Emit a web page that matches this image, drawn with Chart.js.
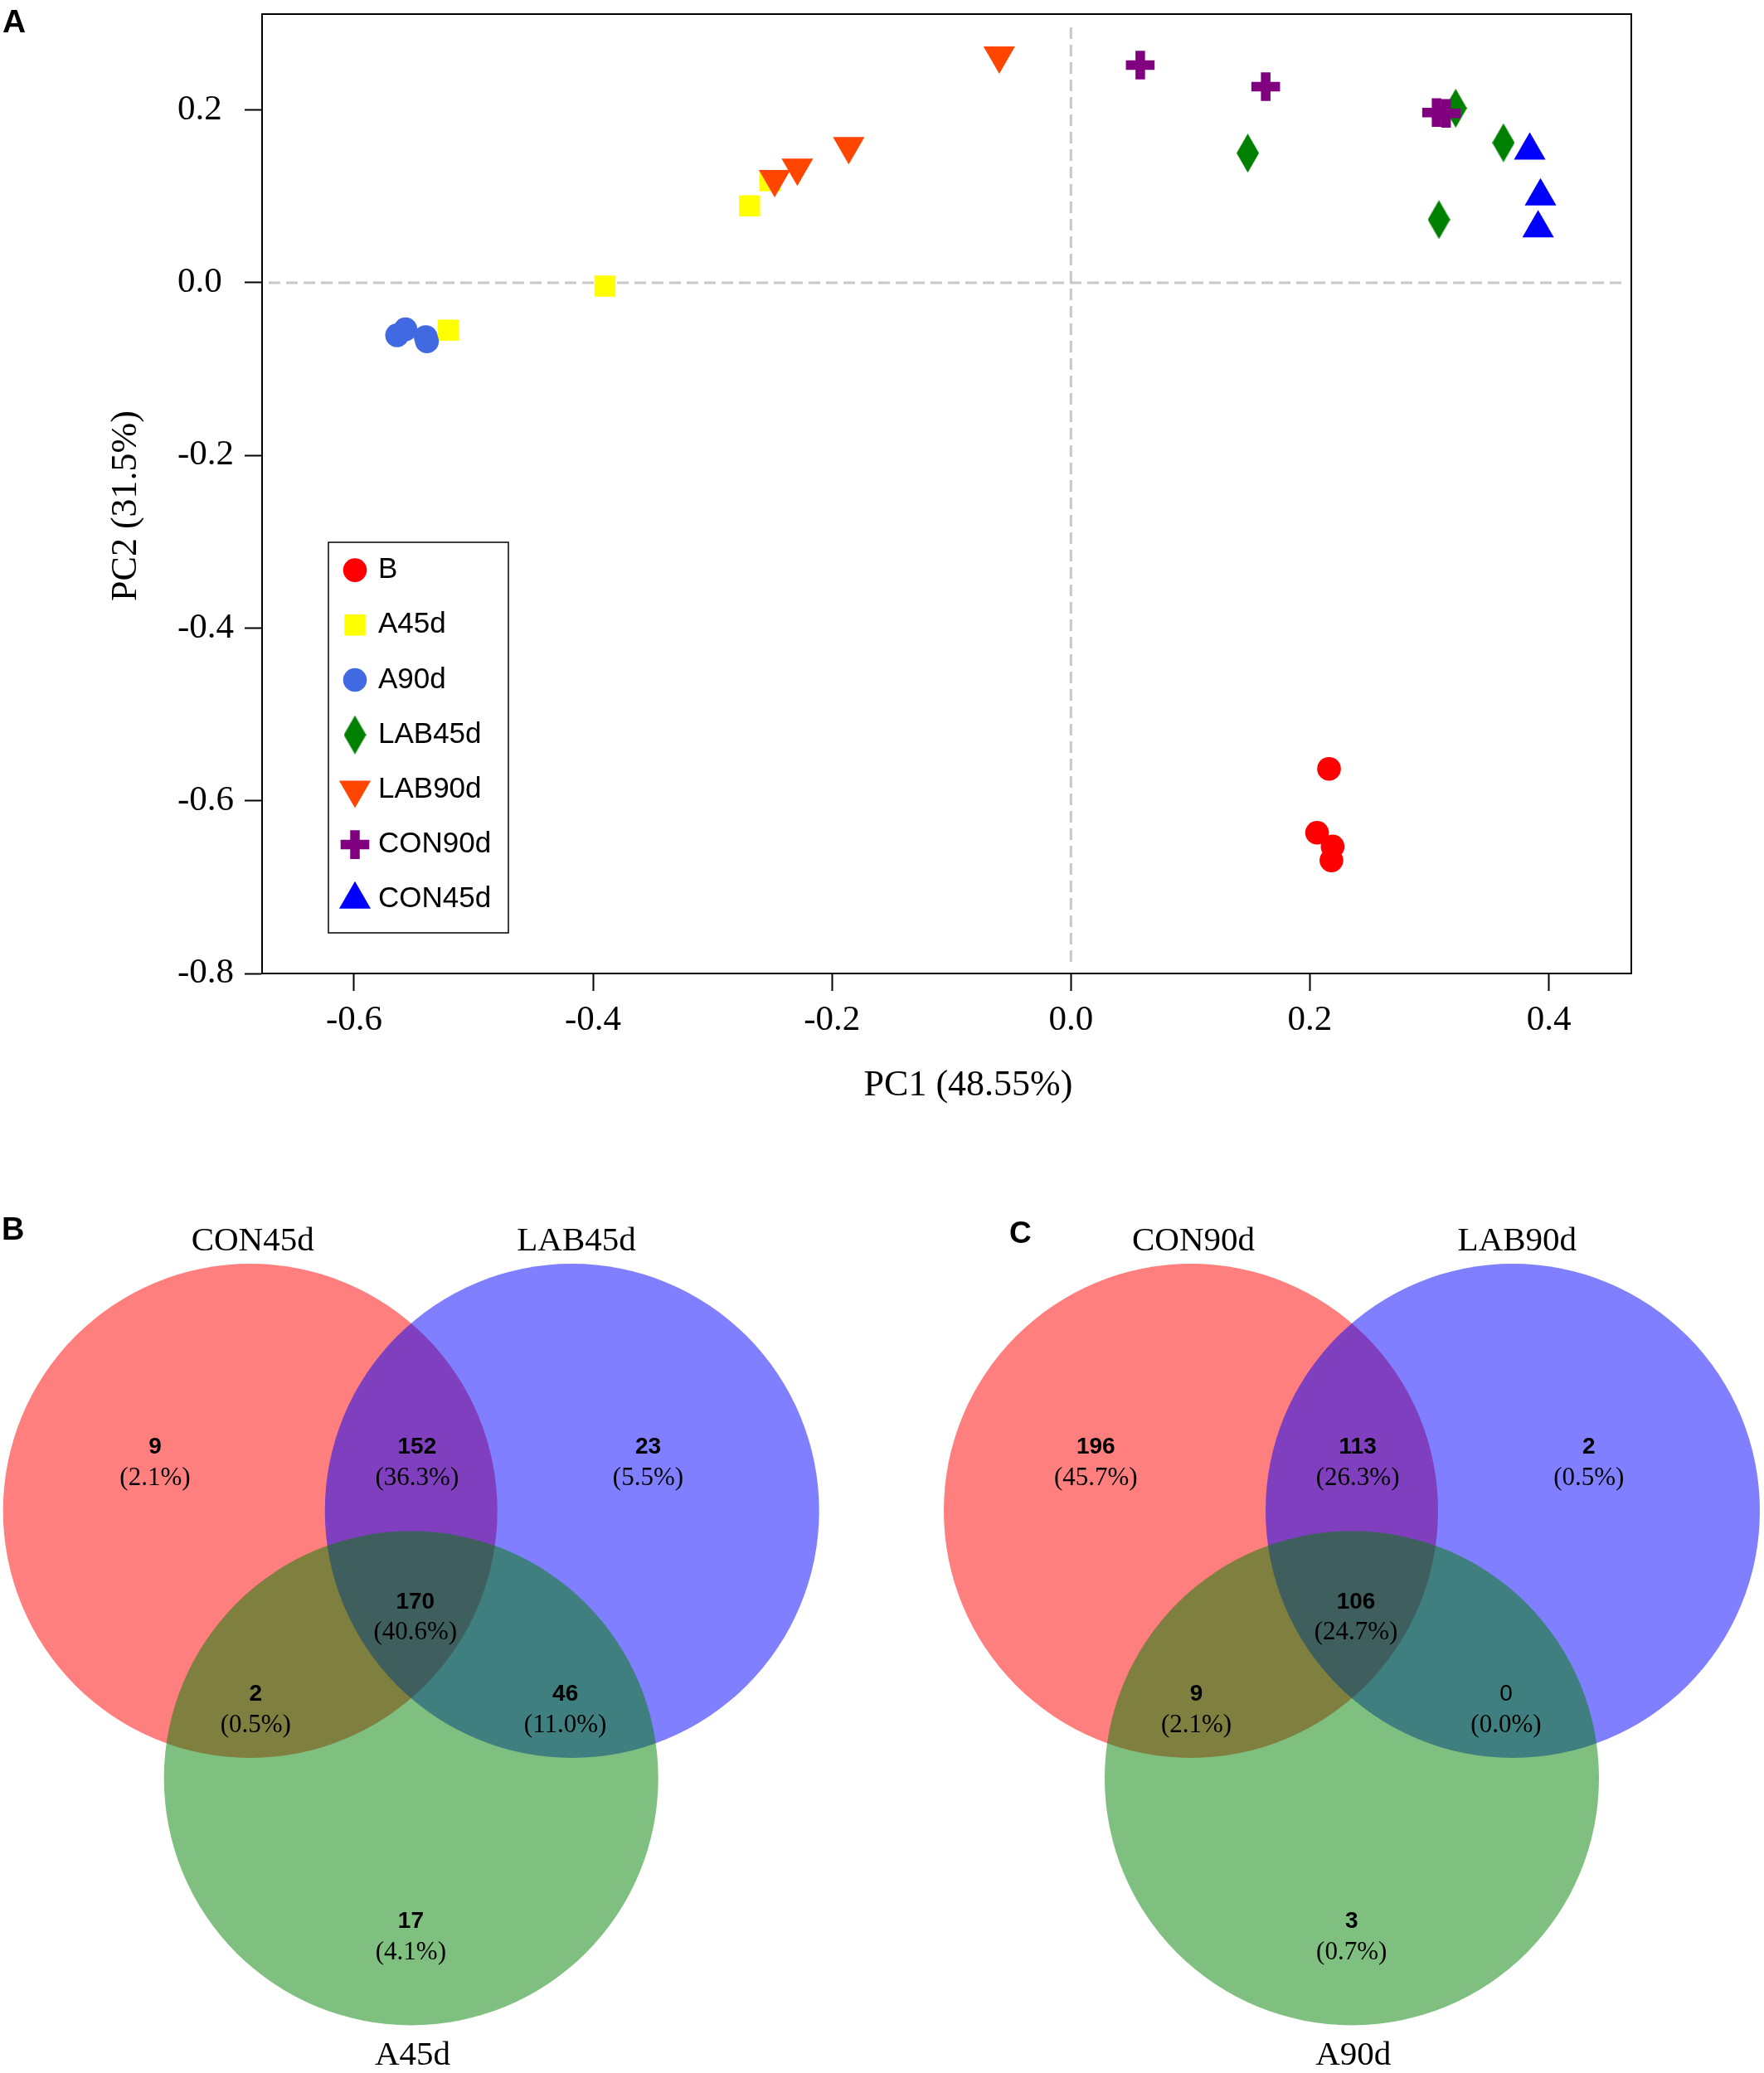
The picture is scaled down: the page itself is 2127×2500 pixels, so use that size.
<!DOCTYPE html>
<html>
<head>
<meta charset="utf-8">
<script src="https://cdn.jsdelivr.net/npm/chart.js@4.4.1/dist/chart.umd.min.js"></script>
<style>
  body { margin: 0; background: #fff; }
  #wrap { position: relative; width: 2127px; height: 2500px; background: #fff; }
  canvas { position: absolute; }
</style>
</head>
<body>
<div id="wrap">
  <canvas id="pca" width="2127" height="1440" style="left:0;top:0"></canvas>
  <canvas id="vennB" width="1063" height="1060" style="left:0;top:1440px"></canvas>
  <canvas id="vennC" width="1064" height="1060" style="left:1063px;top:1440px"></canvas>
</div>
<script>
// ---------- Panel A: PCA scores ----------
const GROUPS = ["B", "A45d", "A90d", "LAB45d", "LAB90d", "CON90d", "CON45d"];

const PC1_B = [0.216, 0.206, 0.219, 0.218];
const PC2_B = [-0.563, -0.637, -0.653, -0.669];
const PC1_A45 = [-0.521, -0.390, -0.269, -0.252];
const PC2_A45 = [-0.055, -0.004, 0.089, 0.118];
const PC1_A90 = [-0.564, -0.557, -0.540, -0.539];
const PC2_A90 = [-0.061, -0.054, -0.063, -0.068];
const PC1_LAB45 = [0.148, 0.322, 0.362, 0.308];
const PC2_LAB45 = [0.150, 0.202, 0.162, 0.073];
const PC1_LAB90 = [-0.060, -0.186, -0.229, -0.248];
const PC2_LAB90 = [0.263, 0.158, 0.133, 0.120];
const PC1_CON90 = [0.058, 0.163, 0.306, 0.314];
const PC2_CON90 = [0.252, 0.227, 0.197, 0.196];
const PC1_CON45 = [0.384, 0.393, 0.391];
const PC2_CON45 = [0.153, 0.100, 0.063];

const X_TICKS = [-0.6, -0.4, -0.2, 0.0, 0.2, 0.4];
const Y_TICKS = [-0.8, -0.6, -0.4, -0.2, 0.0, 0.2];

// ---------- Panels B / C: Venn counts ----------
// region order: set1 only, 1&2, set2 only, 1&2&3, 1&3, 2&3, set3 only
const VENN_SETS_B = ["CON45d", "LAB45d", "A45d"];
const VENN_COUNTS_B = [9, 152, 23, 170, 2, 46, 17];
const VENN_PCTS_B = ["2.1%", "36.3%", "5.5%", "40.6%", "0.5%", "11.0%", "4.1%"];

const VENN_SETS_C = ["CON90d", "LAB90d", "A90d"];
const VENN_COUNTS_C = [196, 113, 2, 106, 9, 0, 3];
const VENN_PCTS_C = ["45.7%", "26.3%", "0.5%", "24.7%", "2.1%", "0.0%", "0.7%"];

// circle geometry (units of circle radius)
const CIRCLE_X = [0, 1.302, 0.651];
const CIRCLE_Y = [0, 0, -1.082];
const CIRCLE_R = 1;

// label layout in the same units
const REGION_POS = [[-0.385, 0.256], [0.675, 0.256], [1.61, 0.256], [0.668, -0.369], [0.022, -0.744], [1.275, -0.744], [0.65, -1.663]];
const SET_POS = [[0.01, 1.091], [1.32, 1.091], [0.657, -2.205]];
const VENN_COLORS = ["rgba(255,0,0,0.5)", "rgba(0,0,255,0.5)", "rgba(0,128,0,0.5)"];

function diamondCanvas(color, w, h) {
    const c = document.createElement("canvas");
    c.width = w;
    c.height = h;
    const g = c.getContext("2d");
    g.fillStyle = color;
    g.beginPath();
    g.moveTo(w / 2, 0);
    g.lineTo(w, h / 2);
    g.lineTo(w / 2, h);
    g.lineTo(0, h / 2);
    g.closePath();
    g.fill();
    return c;
}

const STYLE = {
    B: { color: "#ff0000", style: "circle", r: 14.3 },
    A45d: { color: "#ffff00", style: "rect", r: 18 },
    A90d: { color: "#4169e1", style: "circle", r: 14.3 },
    LAB45d: { color: "#008000", style: diamondCanvas("#008000", 27, 47), r: 24 },
    LAB90d: { color: "#ff4500", style: "triangle", r: 22, rot: 180 },
    CON90d: { color: "#800080", style: "cross", r: 17.3, bw: 11.5 },
    CON45d: { color: "#0000ff", style: "triangle", r: 22 }
};

const SERIES = [
    [PC1_B, PC2_B], [PC1_A45, PC2_A45], [PC1_A90, PC2_A90], [PC1_LAB45, PC2_LAB45],
    [PC1_LAB90, PC2_LAB90], [PC1_CON90, PC2_CON90], [PC1_CON45, PC2_CON45]
];

const pcaDatasets = GROUPS.map((name, i) => {
    const s = STYLE[name];
    const [xs, ys] = SERIES[i];
    return {
        label: name,
        data: xs.map((x, k) => ({ x: x, y: ys[k] })),
        pointStyle: s.style,
        pointRadius: s.r,
        pointRotation: s.rot || 0,
        pointBackgroundColor: s.color,
        pointBorderColor: s.color,
        pointBorderWidth: s.bw || 0,
        showLine: false,
        order: GROUPS.length - i   // later groups drawn on top
    };
});

// dashed zero lines + box around plot
const zeroLines = {
    id: "zeroLines",
    beforeDatasetsDraw(chart) {
        const { ctx, chartArea: a, scales: { x, y } } = chart;
        const x0 = x.getPixelForValue(0);
        const y0 = y.getPixelForValue(0);
        ctx.save();
        ctx.strokeStyle = "#c8c8c8";
        ctx.lineWidth = 3;
        ctx.setLineDash([14, 7]);
        ctx.beginPath();
        ctx.moveTo(x0, a.top + 16);
        ctx.lineTo(x0, a.bottom - 10);
        ctx.moveTo(a.left + 8, y0);
        ctx.lineTo(a.right - 10, y0);
        ctx.stroke();
        ctx.restore();
    },
    afterDraw(chart) {
        const { ctx, chartArea: a } = chart;
        ctx.save();
        ctx.strokeStyle = "#000";
        ctx.lineWidth = 2;
        ctx.strokeRect(a.left, a.top, a.right - a.left, a.bottom - a.top);

        // axis titles
        ctx.fillStyle = "#000";
        ctx.font = '44px "Liberation Serif"';
        ctx.textAlign = "center";
        ctx.textBaseline = "middle";
        ctx.fillText("PC1 (48.55%)", (a.left + a.right) / 2 + 26, a.bottom + 135);
        ctx.translate(a.left - 163.5, (a.top + a.bottom) / 2 + 14.5);
        ctx.rotate(-Math.PI / 2);
        ctx.fillText("PC2 (31.5%)", 0, 0);
        ctx.restore();

        // panel letter
        ctx.save();
        ctx.fillStyle = "#000";
        ctx.font = 'bold 39px "Liberation Sans"';
        ctx.textAlign = "left";
        ctx.textBaseline = "alphabetic";
        ctx.fillText("A", 3, 39);
        ctx.restore();
    }
};

// legend box inside the plot
const pcaLegend = {
    id: "pcaLegend",
    afterDatasetsDraw(chart) {
        const { ctx, chartArea: a } = chart;
        const bx = a.left + 80, by = a.top + 637, bw = 217, bh = 471;
        ctx.save();
        ctx.strokeStyle = "#000";
        ctx.lineWidth = 1.5;
        ctx.strokeRect(bx, by, bw, bh);
        chart.data.datasets.forEach((ds, i) => {
            const ry = by + 33.6 + i * 66.2;
            ctx.fillStyle = ds.pointBackgroundColor;
            ctx.strokeStyle = ds.pointBorderColor;
            ctx.lineWidth = ds.pointBorderWidth;
            Chart.helpers.drawPoint(ctx, {
                pointStyle: ds.pointStyle,
                rotation: ds.pointRotation,
                radius: ds.pointRadius,
                borderWidth: ds.pointBorderWidth
            }, bx + 32, ry);
            ctx.fillStyle = "#000";
            ctx.font = '35px "Liberation Sans"';
            ctx.textAlign = "left";
            ctx.textBaseline = "middle";
            ctx.fillText(ds.label, bx + 60, ry);
        });
        ctx.restore();
    }
};

const tickFont = { family: "Liberation Serif", size: 43, lineHeight: 1.2 };

new Chart(document.getElementById("pca"), {
    type: "scatter",
    data: { datasets: pcaDatasets },
    options: {
        responsive: false,
        animation: false,
        devicePixelRatio: 1,
        events: [],
        layout: { autoPadding: false, padding: { left: 214, top: 17, right: 160, bottom: 0 } },
        plugins: { legend: { display: false }, tooltip: { enabled: false } },
        scales: {
            x: {
                type: "linear",
                min: -0.677,
                max: 0.469,
                afterBuildTicks: s => { s.ticks = X_TICKS.map(v => ({ value: v })); },
                afterFit: s => { s.height = 266; s.paddingLeft = 0; s.paddingRight = 0; },
                border: { display: true, color: "#000", width: 2 },
                grid: { display: true, drawOnChartArea: false, drawTicks: true, tickLength: 21, tickColor: "#000", tickWidth: 2 },
                ticks: { padding: 10, color: "#000", font: tickFont, maxRotation: 0, autoSkip: false, callback: v => v.toFixed(1) }
            },
            y: {
                type: "linear",
                min: -0.8,
                max: 0.311,
                afterBuildTicks: s => { s.ticks = Y_TICKS.map(v => ({ value: v })); },
                // fixed width, and no extra room for the half-height of end labels
                afterFit: s => { s.width = 102; s.paddingTop = 0; s.paddingBottom = 0; },
                border: { display: true, color: "#000", width: 2 },
                grid: { display: true, drawOnChartArea: false, drawTicks: true, tickLength: 21, tickColor: "#000", tickWidth: 2 },
                ticks: { crossAlign: "far", padding: 8, color: "#000", font: tickFont, autoSkip: false, callback: v => v.toFixed(1) }
            }
        }
    },
    plugins: [zeroLines, pcaLegend]
});

// ---------- Venn panels ----------
function vennLabels(names, counts, pcts, letter, lx, ly, lsize) {
    return {
        id: "vennLabels",
        afterDatasetsDraw(chart) {
            const { ctx, scales: { x, y } } = chart;
            ctx.save();
            ctx.fillStyle = "#000";
            ctx.textAlign = "center";
            ctx.textBaseline = "middle";
            REGION_POS.forEach(([rx, ry], i) => {
                const px = x.getPixelForValue(rx);
                const py = y.getPixelForValue(ry);
                ctx.font = (counts[i] === 0 ? "" : "bold ") + '28px "Liberation Sans"';
                ctx.fillText(String(counts[i]), px, py);
                ctx.font = '31px "Liberation Serif"';
                ctx.fillText("(" + pcts[i] + ")", px, py + 37);
            });
            ctx.font = '41px "Liberation Serif"';
            SET_POS.forEach(([sx, sy], i) => {
                ctx.fillText(names[i], x.getPixelForValue(sx), y.getPixelForValue(sy));
            });
            ctx.font = "bold " + lsize + 'px "Liberation Sans"';
            ctx.textAlign = "left";
            ctx.textBaseline = "alphabetic";
            ctx.fillText(letter, lx, ly);
            ctx.restore();
        }
    };
}

function vennChart(id, names, counts, pcts, xMin, width, letter, lx, ly, lsize) {
    const pxPerUnit = 298;
    const yMax = 382 / pxPerUnit;
    new Chart(document.getElementById(id), {
        type: "scatter",
        data: {
            datasets: [{
                data: CIRCLE_X.map((cx, i) => ({ x: cx, y: CIRCLE_Y[i] })),
                pointStyle: "circle",
                pointRadius: ctx => {
                    const s = ctx.chart.scales.x;
                    return Math.abs(s.getPixelForValue(CIRCLE_R) - s.getPixelForValue(0));
                },
                pointBackgroundColor: VENN_COLORS,
                pointBorderWidth: 0,
                showLine: false
            }]
        },
        options: {
            responsive: false,
            animation: false,
            devicePixelRatio: 1,
            events: [],
            layout: { autoPadding: false, padding: 0 },
            plugins: { legend: { display: false }, tooltip: { enabled: false } },
            scales: {
                x: { type: "linear", display: false, min: xMin, max: xMin + width / pxPerUnit },
                y: { type: "linear", display: false, min: yMax - 1060 / pxPerUnit, max: yMax }
            }
        },
        plugins: [vennLabels(names, counts, pcts, letter, lx, ly, lsize)]
    });
}

vennChart("vennB", VENN_SETS_B, VENN_COUNTS_B, VENN_PCTS_B, -301.7 / 298, 1063, "B", 2, 55, 38);
vennChart("vennC", VENN_SETS_C, VENN_COUNTS_C, VENN_PCTS_C, -373 / 298, 1064, "C", 154, 59, 37);
</script>
</body>
</html>
